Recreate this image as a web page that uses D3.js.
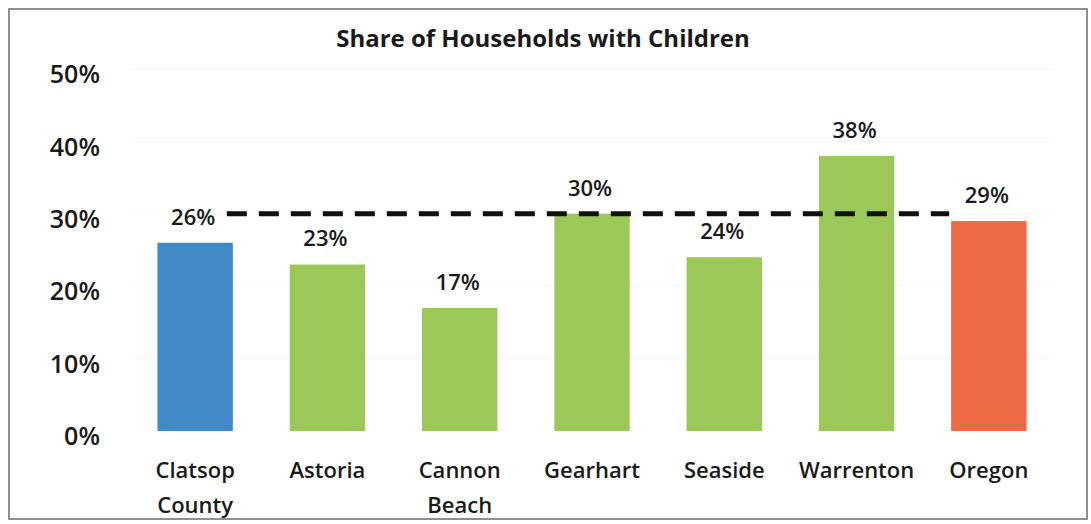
<!DOCTYPE html>
<html>
<head>
<meta charset="utf-8">
<script src="https://cdn.jsdelivr.net/npm/d3@7"></script>
<style>
  body { margin: 0; background: #fff; }
  svg text { font-family: "Open Sans", "Noto Sans", sans-serif; fill: #1a1a1a; }
</style>
</head>
<body>
<svg id="chart" width="1091" height="524"></svg>
<script>
// data
var places = ["Clatsop County", "Astoria", "Cannon Beach", "Gearhart", "Seaside", "Warrenton", "Oregon"];
var shares = [26, 23, 17, 30, 24, 38, 29];
var barColors = ["#4189c7", "#9cc85a", "#9cc85a", "#9cc85a", "#9cc85a", "#9cc85a", "#ee6a45"];
var yTicks = [0, 10, 20, 30, 40, 50];
var refLevel = 30;

var svg = d3.select("#chart");

// outer frame
svg.append("rect")
  .attr("x", 9).attr("y", 9)
  .attr("width", 1078).attr("height", 510)
  .style("fill", "none").style("stroke", "#6b6b6b").style("stroke-width", 1.5);

svg.append("text")
  .attr("x", 543).attr("y", 47)
  .style("text-anchor", "middle")
  .style("font-weight", 700)
  .style("font-size", "24px")
  .text("Share of Households with Children");

var x = d3.scaleBand().domain(places).range([129, 1055]).paddingInner(0.43).paddingOuter(0.215);
var y = d3.scaleLinear().domain([0, 50]).range([431, 69]);

// faint gridlines
svg.append("g")
  .selectAll("line")
  .data(yTicks.slice(1))
  .join("line")
  .attr("x1", 129).attr("x2", 1055)
  .attr("y1", d => y(d)).attr("y2", d => y(d))
  .style("stroke", "#f5f5f5").style("stroke-width", 1);

var yAxis = svg.append("g")
  .attr("transform", "translate(100,0)")
  .call(d3.axisLeft(y).tickValues(yTicks).tickFormat(d => d + "%").tickSize(0).tickPadding(0));
yAxis.select(".domain").remove();
yAxis.selectAll("text")
  .attr("dy", "0.55em")
  .style("font-size", "25px")
  .style("font-weight", 600)
  .style("font-family", "\"Open Sans\", sans-serif")
  .style("fill", "#1a1a1a");

svg.append("g")
  .selectAll("rect")
  .data(places)
  .join("rect")
  .attr("x", d => x(d))
  .attr("y", (d, i) => y(shares[i]))
  .attr("width", x.bandwidth())
  .attr("height", (d, i) => y(0) - y(shares[i]))
  .style("fill", (d, i) => barColors[i]);

// dashed reference line
svg.append("line")
  .attr("x1", x(places[0]) + x.bandwidth() - 6)
  .attr("x2", x(places[places.length - 1]) - 2)
  .attr("y1", y(refLevel)).attr("y2", y(refLevel))
  .style("stroke", "#111")
  .style("stroke-width", 5)
  .style("stroke-dasharray", "20,12");

svg.append("g")
  .selectAll("text")
  .data(places)
  .join("text")
  .attr("x", d => x(d) + x.bandwidth() / 2 - 2)
  .attr("y", (d, i) => y(shares[i]) - 18)
  .style("text-anchor", "middle")
  .style("font-size", "22px")
  .style("font-weight", 600)
  .text((d, i) => shares[i] + "%");

// category labels, split on the space for two-word names
var catLabels = svg.append("g")
  .selectAll("text")
  .data(places)
  .join("text")
  .attr("x", d => x(d) + x.bandwidth() / 2)
  .attr("y", 478)
  .style("text-anchor", "middle")
  .style("font-size", "22px")
  .style("font-weight", 600);

catLabels.each(function (d) {
  var words = d.split(" ");
  var t = d3.select(this);
  words.forEach(function (w, i) {
    t.append("tspan")
      .attr("x", t.attr("x"))
      .attr("dy", i === 0 ? 0 : 35)
      .text(w);
  });
});
</script>
</body>
</html>
